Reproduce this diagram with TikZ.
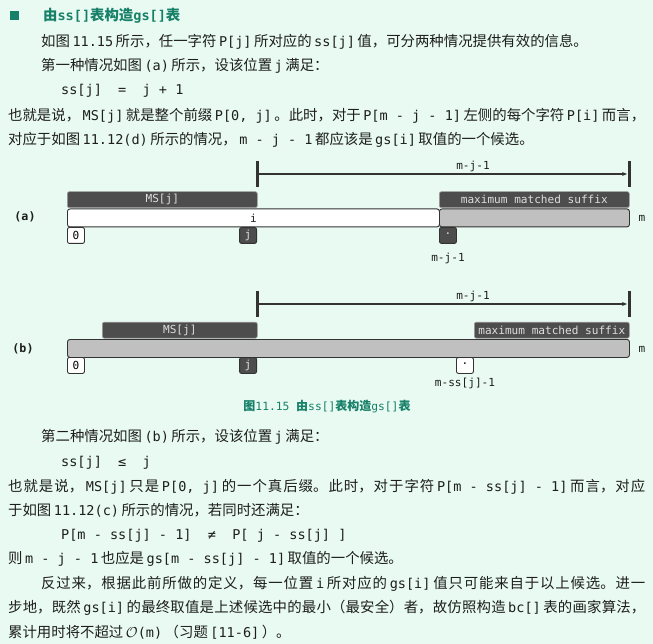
\documentclass[tikz,border=0pt]{standalone}
\usepackage{fontspec}
\setmainfont{Noto Sans CJK SC}
\setmonofont{DejaVu Sans Mono}[Scale=0.94]
\usetikzlibrary{arrows.meta}
\XeTeXlinebreaklocale "zh"
\XeTeXlinebreakskip=0pt plus 2pt

\definecolor{bgmint}{RGB}{232,250,241}
\definecolor{ink}{RGB}{30,30,30}
\definecolor{headteal}{RGB}{22,128,104}
\definecolor{tagdark}{RGB}{77,77,77}
\definecolor{barline}{RGB}{51,51,51}
\definecolor{barfill}{RGB}{192,192,192}

\newcommand\cd[1]{\hspace{2.5pt plus 0.5pt minus 1pt}{\ttfamily #1}\hspace{2.5pt plus 0.5pt minus 1pt}}
\newcommand\fullline[2]{\parbox[b]{#1}{\tolerance=9999\parfillskip=0pt\relax #2}}

\tikzset{
  txt/.style={anchor=base west, inner sep=0pt, text=ink, font=\fontsize{14.4}{20}\selectfont},
  lbl/.style={inner sep=0pt, text=ink, font=\fontsize{11.8}{12}\selectfont\ttfamily},
  tagbox/.style={fill=tagdark, draw=gray!75, line width=0.6pt, rounded corners=2pt, minimum height=16pt, inner sep=0pt, text=white!87!black, font=\fontsize{11.8}{12}\selectfont\ttfamily},
  barbox/.style={draw=barline, line width=0.9pt, rounded corners=2.5pt, minimum height=18pt, inner sep=0pt, text=ink, font=\fontsize{11.8}{12}\selectfont\ttfamily},
  tickbox/.style={draw=barline, line width=0.9pt, rounded corners=2pt, minimum width=17pt, minimum height=16pt, inner sep=0pt, font=\fontsize{11.8}{12}\selectfont\ttfamily},
  dimbar/.style={draw=barline, line width=3pt},
  dimline/.style={draw=barline, line width=1.2pt, -{Stealth[length=5pt,width=4pt]}},
  case/.style={inner sep=0pt, text=ink, font=\fontsize{12.4}{13}\selectfont\ttfamily\bfseries},
}

\begin{document}
\begin{tikzpicture}[x=1pt,y=-1pt]
  \fill[bgmint] (0,0) rectangle (653,644);
  \useasboundingbox (0,0) rectangle (653,644);

  % heading and first paragraphs
  \node[fill=headteal, minimum size=9pt, inner sep=0pt] (sq) at (14.5,16) {};
  \node[txt, text=headteal, font=\fontsize{14.4}{20}\selectfont\bfseries] (title) at (43,21) {由{\ttfamily ss[]}表构造{\ttfamily gs[]}表};
  \node[txt] (l2) at (41,47) {如图\cd{11.15}所示，任一字符\cd{P[j]}所对应的\cd{ss[j]}值，可分两种情况提供有效的信息。};
  \node[txt] (l3) at (41,71) {第一种情况如图\cd{(a)}所示，设该位置\cd{j}满足：};
  \node[txt] (l4) at (61,95) {\ttfamily ss[j]\ \ =\ \ j + 1};
  \node[txt] (l5) at (8,121) {\fullline{637pt}{也就是说，\cd{MS[j]}就是整个前缀\cd{P[0, j]}。此时，对于\cd{P[m - j - 1]}左侧的每个字符\cd{P[i]}而言，}};
  \node[txt] (l6) at (8,145) {对应于如图\cd{11.12(d)}所示的情况，\cd{m - j - 1}都应该是\cd{gs[i]}取值的一个候选。};

  % case (a)
  \coordinate (lA) at (257,174);
  \coordinate (rA) at (629,174);
  \draw[dimbar] ([yshift=13pt]lA) -- ([yshift=-13pt]lA);
  \draw[dimbar] ([yshift=13pt]rA) -- ([yshift=-13pt]rA);
  \draw[dimline] (lA) -- ([xshift=-2pt]rA);
  \node[lbl] (spanA) at (473,166) {m-j-1};
  \node[tagbox, anchor=south west, minimum width=190pt] (msA) at (67,208) {MS[j]};
  \node[tagbox, anchor=south west, minimum width=190pt] (sufA) at (439,208) {maximum matched suffix};
  \node[barbox, fill=white, anchor=north west, minimum width=372pt] (preA) at (67,208.5) {i};
  \node[barbox, fill=barfill, anchor=north west, minimum width=190pt] (endA) at (439,208.5) {};
  \node[tickbox, fill=white, anchor=north west] (zeroA) at (67,227) {0};
  \node[tickbox, fill=tagdark, text=white!87!black, anchor=north east] (jA) at (257,227) {j};
  \node[tickbox, fill=tagdark, text=white!87!black, anchor=north west] (dotA) at (439,227) {·};
  \node[lbl] (posA) at (448,258) {m-j-1};
  \node[case] (caseA) at (25,217) {(a)};
  \node[lbl] (mA) at (642,218) {m};

  % case (b)
  \coordinate (lB) at (257,304);
  \coordinate (rB) at (629,304);
  \draw[dimbar] ([yshift=13pt]lB) -- ([yshift=-13pt]lB);
  \draw[dimbar] ([yshift=13pt]rB) -- ([yshift=-13pt]rB);
  \draw[dimline] (lB) -- ([xshift=-2pt]rB);
  \node[lbl] (spanB) at (473,296) {m-j-1};
  \node[barbox, fill=barfill, anchor=north west, minimum width=562pt] (preB) at (67,339) {};
  \node[tagbox, anchor=south west, minimum width=155pt] (msB) at (102,338.5) {MS[j]};
  \node[tagbox, anchor=south west, minimum width=155pt] (sufB) at (474,338.5) {maximum matched suffix};
  \node[tickbox, fill=white, anchor=north west] (zeroB) at (67,357) {0};
  \node[tickbox, fill=tagdark, text=white!87!black, anchor=north east] (jB) at (257,357) {j};
  \node[tickbox, fill=white, anchor=north west] (dotB) at (456,357) {·};
  \node[lbl] (posB) at (465,383) {m-ss[j]-1};
  \node[case] (caseB) at (23,349) {(b)};
  \node[lbl] (mB) at (642,349) {m};

  \node[inner sep=0pt, text=headteal, font=\fontsize{12}{12}\selectfont\bfseries] (cap) at (327,407) {图{\mdseries\ttfamily 11.15 }由{\mdseries\ttfamily ss[]}表构造{\mdseries\ttfamily gs[]}表};

  % second case and closing paragraph
  \node[txt] (l7) at (41,441) {第二种情况如图\cd{(b)}所示，设该位置\cd{j}满足：};
  \node[txt] (l8) at (61,466) {\ttfamily ss[j]\ \ ≤\ \ j};
  \node[txt] (l9) at (8,491) {\fullline{637pt}{也就是说，\cd{MS[j]}只是\cd{P[0, j]}的一个真后缀。此时，对于字符\cd{P[m - ss[j] - 1]}而言，对应}};
  \node[txt] (l10) at (8,515) {于如图\cd{11.12(c)}所示的情况，若同时还满足：};
  \node[txt] (l11) at (61,539) {\ttfamily P[m - ss[j] - 1]\ \ ≠\ \ P[ j - ss[j] ]};
  \node[txt] (l12) at (8,563) {则\cd{m - j - 1}也应是\cd{gs[m - ss[j] - 1]}取值的一个候选。};
  \node[txt] (l13) at (41,588) {\fullline{604pt}{反过来，根据此前所做的定义，每一位置\cd{i}所对应的\cd{gs[i]}值只可能来自于以上候选。进一}};
  \node[txt] (l14) at (8,612) {\fullline{637pt}{步地，既然\cd{gs[i]}的最终取值是上述候选中的最小（最安全）者，故仿照构造\cd{bc[]}表的画家算法，}};
  \node[txt] (l15) at (8,637) {累计用时将不超过\cd{$\mathcal{O}$(m)}（习题\cd{[11-6]}）。};
\end{tikzpicture}
\end{document}
